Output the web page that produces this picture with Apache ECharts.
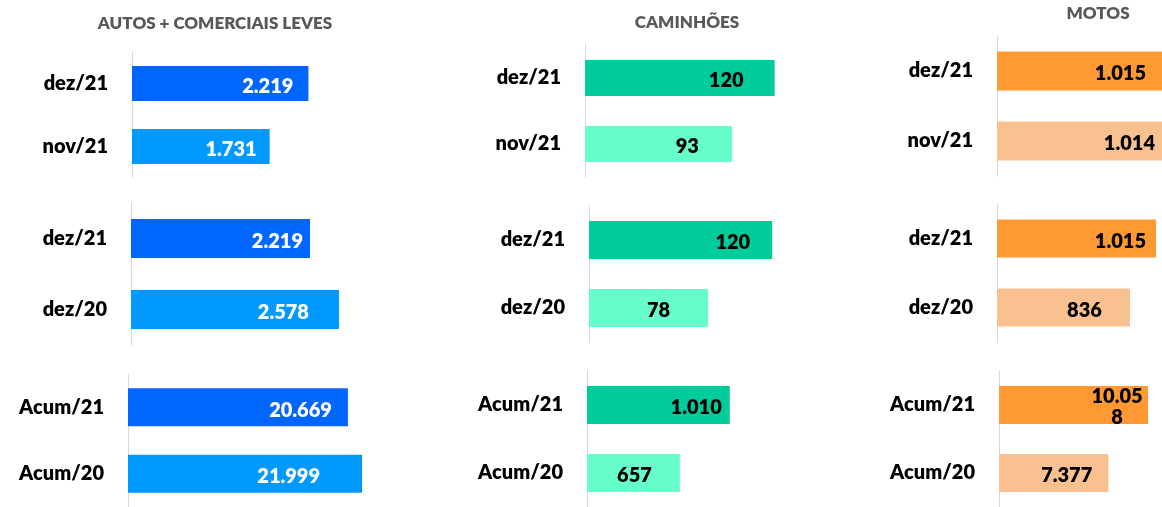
<!DOCTYPE html>
<html>
<head>
<meta charset="utf-8">
<script src="https://cdn.jsdelivr.net/npm/echarts@6/dist/echarts.min.js"></script>
<style>
  html, body { margin: 0; padding: 0; background: #fff; }
  #chart { width: 1162px; height: 507px; }
</style>
</head>
<body>
<div id="chart"></div>
<script>
// data
var titles = ['AUTOS + COMERCIAIS LEVES', 'CAMINHÕES', 'MOTOS'];
var rowCats = [['dez/21', 'nov/21'], ['dez/21', 'dez/20'], ['Acum/21', 'Acum/20']];
var autosValues = [[2219, 1731], [2219, 2578], [20669, 21999]];
var caminhoesValues = [[120, 93], [120, 78], [1010, 657]];
var motosValues = [[1015, 1014], [1015, 836], [10058, 7377]];

// layout of each small chart (column, row)
var panels = [
  { col: 0, row: 0, left: 132, width: 238.5, top: 52, height: 126, max: 3000, barW: 35, inset: [15, 13] },
  { col: 0, row: 1, left: 131, width: 242, top: 203, height: 142, max: 3000, barW: 39, inset: [7, 30] },
  { col: 0, row: 2, left: 128, width: 266, top: 374, height: 140, max: 25000, barW: 38, inset: [16, 42] },
  { col: 1, row: 0, left: 585, width: 237, top: 45, height: 132, max: 150, barW: 36, inset: [31, 33] },
  { col: 1, row: 1, left: 589, width: 229, top: 206, height: 136, max: 150, barW: 38, inset: [22, 38] },
  { col: 1, row: 2, left: 587, width: 212, top: 371, height: 138, max: 1500, barW: 38, inset: [8, 28] },
  { col: 2, row: 0, left: 997, width: 165, top: 36, height: 140, max: 1000, barW: 39, inset: [16, 7] },
  { col: 2, row: 1, left: 997, width: 159, top: 204, height: 138, max: 1000, barW: 38, inset: [10, 28] },
  { col: 2, row: 2, left: 999, width: 163, top: 371, height: 140, max: 11000, barW: 38, inset: [31, 16] }
];
var colValues = [autosValues, caminhoesValues, motosValues];
var colColors = [['#0066FF', '#0099FF'], ['#00CC99', '#66FFCC'], ['#FF9933', '#F9C190']];
var labelColors = ['#ffffff', '#000000', '#000000'];
var titlePos = [[210, 10], [682, 9], [1093, 0]];
var FONT = 'Lato, "Open Sans", sans-serif';

function fmt(v) {
  return String(v).replace(/\B(?=(\d{3})+(?!\d))/g, '.');
}

var grids = [], xAxes = [], yAxes = [], series = [];
panels.forEach(function (p, i) {
  grids.push({ left: p.left, top: p.top, width: p.width, height: p.height, containLabel: false });
  xAxes.push({ type: 'value', gridIndex: i, min: 0, max: p.max, show: false, splitLine: { show: false } });
  yAxes.push({
    type: 'category', gridIndex: i, inverse: true, data: rowCats[p.row],
    axisLine: { show: true, lineStyle: { color: '#D9D9D9', width: 1 } },
    axisTick: { show: false },
    axisLabel: { color: '#000', fontSize: 20, fontWeight: 800, fontFamily: FONT, margin: 24 }
  });
  var vals = colValues[p.col][p.row];
  var data = vals.map(function (v, k) {
    var item = {
      value: v,
      itemStyle: { color: colColors[p.col][k] },
      label: { distance: p.inset[k], offset: [0, 3] }
    };
    if (v >= 10000 && p.col === 2) {
      item.label.width = 58;
      item.label.overflow = 'breakAll';
      item.label.align = 'center';
      item.label.lineHeight = 21;
      item.label.offset = [0, 2];
    }
    return item;
  });
  series.push({
    type: 'bar', xAxisIndex: i, yAxisIndex: i, barWidth: p.barW, data: data,
    label: {
      show: true, position: 'insideRight', color: labelColors[p.col],
      fontSize: 20, fontWeight: 800, fontFamily: FONT,
      formatter: function (params) { return fmt(params.value); }
    },
    silent: true, animation: false
  });
});

var chart = echarts.init(document.getElementById('chart'));
chart.setOption({
  animation: false,
  title: titles.map(function (t, c) {
    return {
      text: t, left: titlePos[c][0], top: titlePos[c][1], textAlign: 'center',
      textStyle: { color: '#595959', fontSize: 17, fontWeight: 800, fontFamily: FONT }
    };
  }),
  grid: grids,
  xAxis: xAxes,
  yAxis: yAxes,
  series: series
});
</script>
</body>
</html>
